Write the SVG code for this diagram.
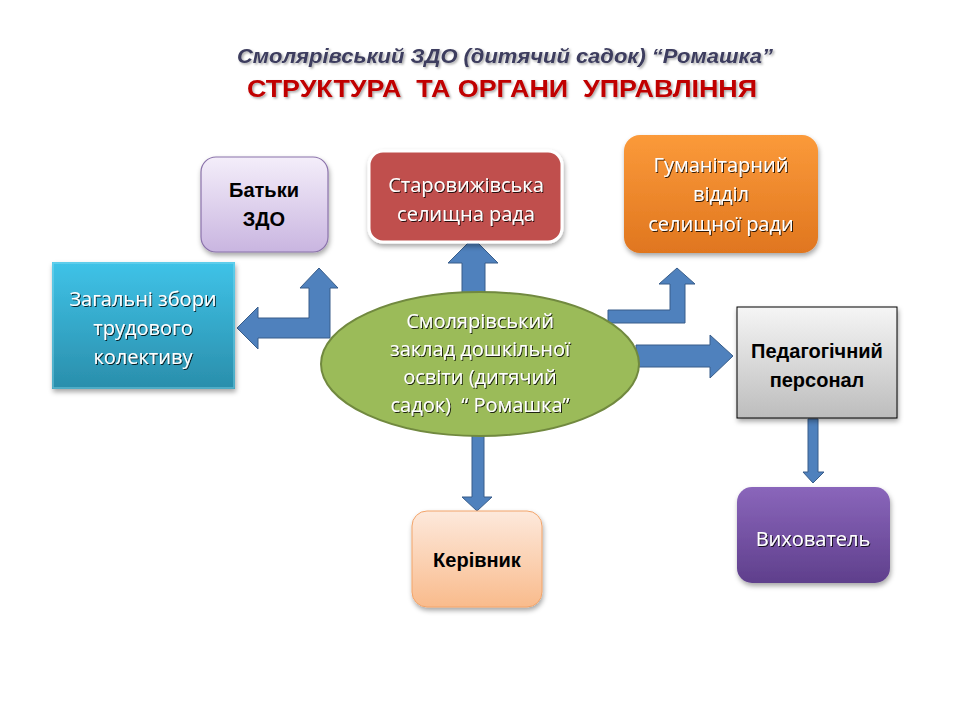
<svg xmlns="http://www.w3.org/2000/svg" width="960" height="720" viewBox="0 0 960 720">
<defs>
<linearGradient id="gLav" x1="0" y1="0" x2="0" y2="1"><stop offset="0" stop-color="#f4eefa"/><stop offset="1" stop-color="#c9b5e0"/></linearGradient>
<linearGradient id="gOrange" x1="0" y1="0" x2="0" y2="1"><stop offset="0" stop-color="#fb9a3a"/><stop offset="1" stop-color="#e0761f"/></linearGradient>
<linearGradient id="gTeal" x1="0" y1="0" x2="0" y2="1"><stop offset="0" stop-color="#3fc3e8"/><stop offset="1" stop-color="#2a8eab"/></linearGradient>
<linearGradient id="gGray" x1="0" y1="0" x2="0" y2="1"><stop offset="0" stop-color="#f5f5f5"/><stop offset="1" stop-color="#bdbdbd"/></linearGradient>
<linearGradient id="gPeach" x1="0" y1="0" x2="0" y2="1"><stop offset="0" stop-color="#fde9dc"/><stop offset="1" stop-color="#f9bb8c"/></linearGradient>
<linearGradient id="gPurple" x1="0" y1="0" x2="0" y2="1"><stop offset="0" stop-color="#8a66bb"/><stop offset="1" stop-color="#5f3f8c"/></linearGradient>
<filter id="sh" x="-20%" y="-20%" width="140%" height="150%"><feDropShadow dx="1" dy="3" stdDeviation="2.5" flood-color="#000" flood-opacity="0.35"/></filter>
<filter id="ts" x="-10%" y="-30%" width="120%" height="160%"><feDropShadow dx="1" dy="1" stdDeviation="0.7" flood-color="#000" flood-opacity="0.8"/></filter>
<filter id="tts" x="-10%" y="-30%" width="120%" height="160%"><feDropShadow dx="1.5" dy="1.5" stdDeviation="0.8" flood-color="#000" flood-opacity="0.35"/></filter>
</defs>
<style>
.t{font-family:"Open Sans","Noto Sans","Liberation Sans",sans-serif;font-size:20px;text-anchor:middle}
.w{fill:#fff;filter:url(#ts)}
.b{fill:#000;font-weight:bold;font-family:"Liberation Sans",Arial,sans-serif;font-size:20px}
.arr{fill:#4f81bd;stroke:#385d8a;stroke-width:1}
</style>
<rect width="960" height="720" fill="#fff"/>

<g id="title">
<text x="505" y="63" font-family="Liberation Sans, Arial, sans-serif" font-style="italic" font-weight="bold" font-size="21" fill="#3d3d5e" text-anchor="middle" textLength="536" lengthAdjust="spacingAndGlyphs" filter="url(#tts)">Смолярівський ЗДО (дитячий садок) “Ромашка”</text>
<text x="502" y="97" font-family="Liberation Sans, Arial, sans-serif" font-weight="bold" font-size="24" fill="#c00000" text-anchor="middle" textLength="510" lengthAdjust="spacingAndGlyphs" xml:space="preserve" filter="url(#tts)">СТРУКТУРА  ТА ОРГАНИ  УПРАВЛІННЯ</text>
</g>

<g id="connectors">
<polygon class="arr" points="473,238 498,263 485,263 485,300 462,300 462,263 448,263"/>
<polygon class="arr" points="237,328 258,307 258,318 309,318 309,288 300,288 319,268 338,288 330,288 330,338 258,338 258,349"/>
<polygon class="arr" points="677,268 695,284 685,284 685,323 608,323 608,310 670,310 670,284 659,284"/>
<polygon class="arr" points="733,356 710,335 710,345 636,345 636,367 710,367 710,378"/>
<polygon class="arr" points="477,511 492,497 484,497 484,430 472,430 472,497 462,497"/>
<polygon class="arr" points="813,483 824,472 818,472 818,419 808,419 808,472 803,472"/>
</g>

<g id="n-center">
<ellipse cx="480" cy="364" rx="159" ry="72" fill="#9bbb59" stroke="#71893f" stroke-width="2"/>
<text class="t w" x="480" y="328">Смолярівський</text>
<text class="t w" x="480" y="356">заклад дошкільної</text>
<text class="t w" x="480" y="384">освіти (дитячий</text>
<text class="t w" x="480" y="412" xml:space="preserve">садок)  “ Ромашка”</text>
</g>

<g id="n-batky">
<rect x="201" y="157" width="127" height="95" rx="15" fill="url(#gLav)" stroke="#8a72aa" stroke-width="1.2" filter="url(#sh)"/>
<text class="t b" x="264" y="197">Батьки</text>
<text class="t b" x="264" y="226">ЗДО</text>
</g>

<g id="n-rada">
<rect x="369" y="151" width="193" height="91" rx="14" fill="#c0504d" stroke="#fff" stroke-width="3" filter="url(#sh)"/>
<text class="t w" x="466" y="192">Старовижівська</text>
<text class="t w" x="466" y="221">селищна рада</text>
</g>

<g id="n-guman">
<rect x="624" y="135" width="194" height="118" rx="16" fill="url(#gOrange)" filter="url(#sh)"/>
<text class="t w" x="721" y="172">Гуманітарний</text>
<text class="t w" x="721" y="201">відділ</text>
<text class="t w" x="721" y="231">селищної ради</text>
</g>

<g id="n-zbory">
<rect x="52" y="262" width="183" height="127" fill="url(#gTeal)" filter="url(#sh)"/>
<rect x="53" y="263" width="181" height="125" fill="none" stroke="#8ee0f4" stroke-opacity="0.5" stroke-width="1.5"/>
<text class="t w" x="143" y="306">Загальні збори</text>
<text class="t w" x="143" y="335">трудового</text>
<text class="t w" x="143" y="364">колективу</text>
</g>

<g id="n-ped">
<rect x="737" y="307" width="160" height="111" fill="url(#gGray)" stroke="#000" stroke-width="1" filter="url(#sh)"/>
<text class="t b" x="817" y="358">Педагогічний</text>
<text class="t b" x="817" y="387">персонал</text>
</g>

<g id="n-kerivnyk">
<rect x="412" y="511" width="130" height="96" rx="15" fill="url(#gPeach)" stroke="#f2a46a" stroke-width="1" filter="url(#sh)"/>
<text class="t b" x="477" y="567">Керівник</text>
</g>

<g id="n-vyhovatel">
<rect x="737" y="487" width="153" height="96" rx="15" fill="url(#gPurple)" filter="url(#sh)"/>
<text class="t w" x="813" y="546">Вихователь</text>
</g>
</svg>
